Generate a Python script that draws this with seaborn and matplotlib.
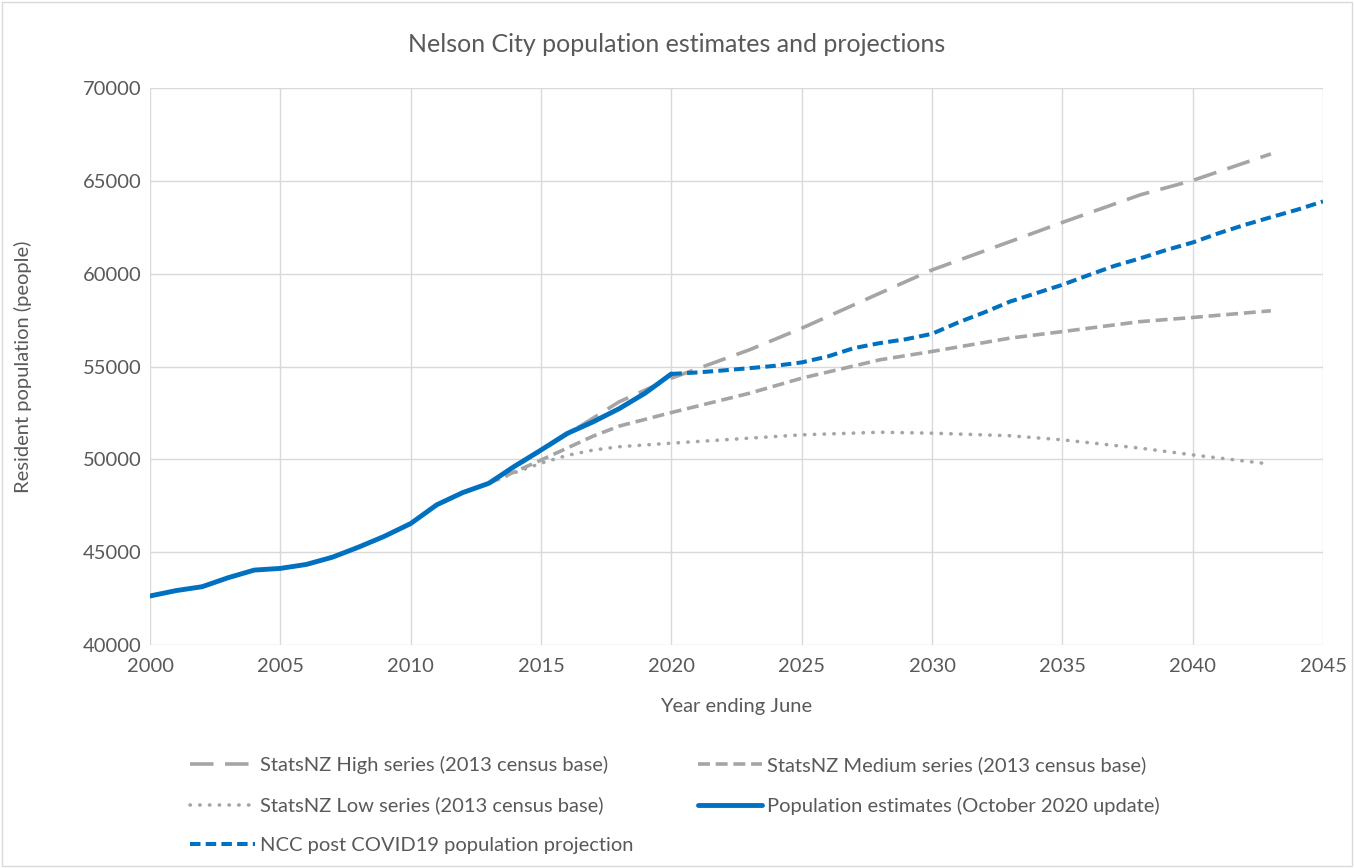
import pandas as pd
import matplotlib.pyplot as plt
import seaborn as sns

sns.set_style('white')
plt.rcParams['font.family'] = ['Lato', 'DejaVu Sans']

# population estimates (October 2020 update)
est_years = list(range(2000, 2021))
est_pop = [42640, 42930, 43140, 43625, 44035, 44125, 44340, 44730, 45270, 45860, 46540,
           47550, 48210, 48710, 49640, 50500, 51390, 52020, 52730, 53570, 54600]

# StatsNZ projections, 2013 census base
high_years = [2013, 2018, 2020, 2023, 2025, 2028, 2030, 2033, 2035, 2038, 2040, 2043]
high_pop = [48710, 53100, 54370, 55900, 57060, 58950, 60200, 61730, 62760, 64250, 65020, 66450]

med_years = [2013, 2015, 2017, 2018, 2020, 2023, 2025, 2028, 2030, 2033, 2035, 2038, 2040, 2043]
med_pop = [48710, 49960, 51250, 51790, 52520, 53560, 54370, 55360, 55810, 56530, 56880, 57420, 57640, 58000]

low_years = [2013, 2014, 2015, 2016, 2017, 2018, 2020, 2023, 2025, 2028, 2030, 2033, 2035, 2038, 2040, 2043]
low_pop = [48710, 49290, 49790, 50210, 50500, 50680, 50870, 51140, 51320, 51460, 51410, 51270,
           51050, 50600, 50240, 49740]

# NCC post COVID19 projection
ncc_years = list(range(2020, 2046))
ncc_pop = [54600, 54680, 54790, 54910, 55040, 55220, 55540, 55990, 56260, 56470, 56760, 57370,
           57910, 58500, 58950, 59400, 59920, 60420, 60830, 61280, 61680, 62180, 62630, 63040,
           63440, 63890]

blue = '#0070C0'
grey = '#A5A5A5'
txt = '#595959'
fs = 14.5

fig = plt.figure(figsize=(13.54, 8.68), dpi=100)
ax = fig.add_axes([150/1354, 1 - 645/868, 1173/1354, 557/868])

series = [
    ('StatsNZ High series (2013 census base)', high_years, high_pop, grey, 2.6, (0, (6.5, 3.2))),
    ('StatsNZ Medium series (2013 census base)', med_years, med_pop, grey, 2.6, (0, (3.3, 1.6))),
    ('StatsNZ Low series (2013 census base)', low_years, low_pop, grey, 2.6, (0, (0.1, 2.6))),
    ('Population estimates (October 2020 update)', est_years, est_pop, blue, 3.5, '-'),
    ('NCC post COVID19 population projection', ncc_years, ncc_pop, blue, 2.9, (0, (2.6, 1.3))),
]
handles = {}
for name, xs, ys, col, lw, ls in series:
    df = pd.DataFrame({'year': xs, 'pop': ys})
    sns.lineplot(data=df, x='year', y='pop', ax=ax, color=col, linewidth=lw,
                 linestyle=ls, label=name, legend=False,
                 dash_capstyle='round' if name.startswith('StatsNZ Low') else 'butt')
    handles[name] = ax.lines[-1]

ax.set_xlim(2000, 2045)
ax.set_ylim(40000, 70000)
ax.set_xticks(range(2000, 2046, 5))
ax.set_yticks(range(40000, 70001, 5000))
ax.grid(True, color='#D9D9D9', linewidth=1)
ax.set_axisbelow(True)
for s in ax.spines.values():
    s.set_visible(False)
ax.tick_params(axis='y', length=0, labelsize=fs, colors=txt, pad=6)
ax.tick_params(axis='x', length=0, labelsize=fs, colors=txt, pad=9)
ax.set_xlabel('Year ending June', fontsize=fs, color=txt)
ax.set_ylabel('Resident population (people)', fontsize=fs, color=txt)
ax.xaxis.set_label_coords(0.5, (645 - 698) / 557)
ax.yaxis.set_label_coords((32 - 150) / 1173, 0.5)

fig.text(0.5, 1 - 45/868, 'Nelson City population estimates and projections',
         ha='center', va='center', fontsize=18, color=txt)

order = [series[0][0], series[2][0], series[4][0], series[1][0], series[3][0]]
leg = fig.legend([handles[n] for n in order], order, ncol=2, frameon=False,
                 loc='upper left', bbox_to_anchor=(172/1354, 1 - 738/868),
                 fontsize=fs, handlelength=3.2, handletextpad=0.25,
                 columnspacing=3.2, labelspacing=1.12)
for t in leg.get_texts():
    t.set_color(txt)

fig.patches.append(plt.Rectangle((2/1354, 2/868), 1 - 4/1354, 1 - 4/868, transform=fig.transFigure,
                                 fill=False, edgecolor='#D9D9D9', linewidth=1))

plt.savefig('out.png', dpi=100)
